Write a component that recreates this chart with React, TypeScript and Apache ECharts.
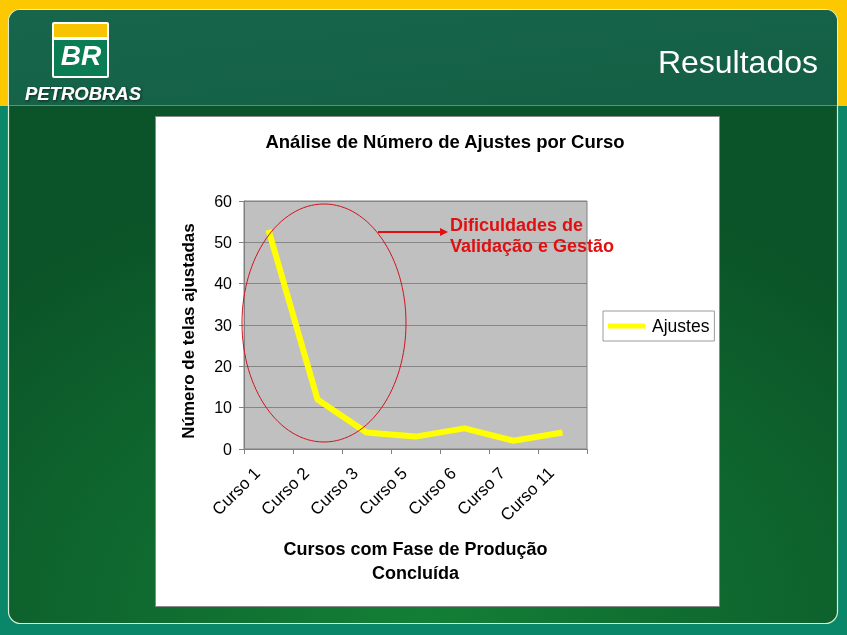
import React, { useEffect, useRef } from 'react';
import * as echarts from 'echarts';

const categories = ['Curso 1', 'Curso 2', 'Curso 3', 'Curso 5', 'Curso 6', 'Curso 7', 'Curso 11'];
const ajustes = [53, 12, 4, 3, 5, 2, 4];
const yMin = 0;
const yMax = 60;
const yStep = 10;
const seriesName = 'Ajustes';
const chartTitle = 'Análise de Número de Ajustes por Curso';
const yAxisTitle = 'Número de telas ajustadas';
const xAxisTitle = 'Cursos com Fase de Produção\nConcluída';
const annotationText = 'Dificuldades de\nValidação e Gestão';
const slideTitle = 'Resultados';
const brandName = 'PETROBRAS';
const logoText = 'BR';

const FONT = '"Liberation Sans", Arial, sans-serif';

export default function App() {
  const ref = useRef<HTMLDivElement>(null);

  useEffect(() => {
    if (!ref.current) return;
    const chart = echarts.init(ref.current, null, { renderer: 'svg' });

    const bgElements: any[] = [
      { type: 'rect', z: -100, silent: true, shape: { x: 0, y: 0, width: 847, height: 635 }, style: { fill: '#0a8769' } },
      { type: 'rect', z: -99, silent: true, shape: { x: 0, y: 0, width: 847, height: 106 }, style: { fill: '#fcc800' } },
      {
        type: 'rect', z: -98, silent: true,
        shape: { x: 8.5, y: 9.5, width: 829, height: 614, r: 12 },
        style: {
          fill: new echarts.graphic.RadialGradient(0.5, 1.0, 0.75, [
            { offset: 0, color: '#137f36' },
            { offset: 1, color: '#0b5328' },
          ]),
          stroke: '#d9efdc', lineWidth: 1.2,
        },
      },
      {
        type: 'rect', z: -97, silent: true,
        shape: { x: 9, y: 10, width: 828, height: 95, r: [11, 11, 0, 0] },
        style: {
          fill: new echarts.graphic.LinearGradient(0, 0, 1, 1, [
            { offset: 0, color: '#17664b' },
            { offset: 1, color: '#135f45' },
          ]),
        },
      },
      { type: 'line', z: -96, silent: true, shape: { x1: 9, y1: 105.5, x2: 837, y2: 105.5 }, style: { stroke: '#4d9a6c', lineWidth: 1 } },
      // logo
      { type: 'rect', z: -95, silent: true, shape: { x: 52, y: 22, width: 57, height: 56, r: 2 }, style: { fill: '#ffffff' } },
      { type: 'rect', z: -94, silent: true, shape: { x: 54, y: 24, width: 53, height: 13 }, style: { fill: '#f6c400' } },
      { type: 'rect', z: -94, silent: true, shape: { x: 54, y: 40, width: 53, height: 36 }, style: { fill: '#0a7d55' } },
      {
        type: 'text', z: -93, silent: true, x: 81, y: 55,
        style: { text: logoText, fill: '#ffffff', font: `italic bold 28px ${FONT}`, align: 'center', verticalAlign: 'middle' },
      },
      {
        type: 'text', z: -93, silent: true, x: 83, y: 93,
        style: {
          text: brandName, fill: '#ffffff', font: `italic bold 18.5px ${FONT}`, align: 'center', verticalAlign: 'middle',
          textShadowColor: '#0a2a18', textShadowBlur: 2, textShadowOffsetX: 1, textShadowOffsetY: 1,
        },
      },
      {
        type: 'text', z: -93, silent: true, x: 818, y: 62,
        style: { text: slideTitle, fill: '#ffffff', font: `32px ${FONT}`, align: 'right', verticalAlign: 'middle' },
      },
      // chart panel
      { type: 'rect', z: -92, silent: true, shape: { x: 155.5, y: 116.5, width: 564, height: 490 }, style: { fill: '#ffffff', stroke: '#8a8a8a', lineWidth: 1 } },
    ];

    const annotationElements: any[] = [
      {
        type: 'ellipse', z: 100, silent: true,
        shape: { cx: 324, cy: 323, rx: 82, ry: 119 },
        style: { fill: 'none', stroke: '#d0141e', lineWidth: 1 },
      },
      { type: 'line', z: 100, silent: true, shape: { x1: 378, y1: 232, x2: 441, y2: 232 }, style: { stroke: '#e01010', lineWidth: 2 } },
      { type: 'polygon', z: 100, silent: true, shape: { points: [[440, 228], [448, 232], [440, 236]] }, style: { fill: '#e01010' } },
      {
        type: 'text', z: 100, silent: true, x: 450, y: 214,
        style: { text: annotationText, fill: '#e01010', font: `bold 18px ${FONT}`, lineHeight: 21 },
      },
    ];

    chart.setOption({
      animation: false,
      title: {
        text: chartTitle,
        left: 440,
        top: 127,
        textAlign: 'center',
        textStyle: { fontFamily: FONT, fontWeight: 'bold', fontSize: 18.5, color: '#000' },
      },
      legend: {
        left: 603,
        top: 311,
        orient: 'vertical',
        padding: [6, 5, 6, 5],
        itemWidth: 37,
        itemHeight: 5,
        itemGap: 4,
        backgroundColor: '#ffffff',
        borderColor: '#9a9a9a',
        borderWidth: 1,
        borderRadius: 0,
        data: [{ name: seriesName, icon: 'rect' }],
        textStyle: { fontFamily: FONT, fontSize: 17.5, color: '#000', padding: [0, 0, 0, 2] },
      },
      grid: {
        left: 244,
        right: 260,
        top: 201,
        bottom: 186,
        show: true,
        backgroundColor: '#c0c0c0',
        borderWidth: 1,
        borderColor: '#808080',
      },
      xAxis: {
        type: 'category',
        data: categories,
        boundaryGap: true,
        axisLine: { show: true, lineStyle: { color: '#808080', width: 1 } },
        axisTick: { show: true, length: 5, alignWithLabel: false, lineStyle: { color: '#808080' } },
        axisLabel: {
          interval: 0,
          rotate: 45,
          margin: 10,
          padding: [0, 16, 0, 0],
          fontFamily: FONT,
          fontSize: 17,
          color: '#000',
        },
        name: xAxisTitle,
        nameLocation: 'middle',
        nameGap: 88,
        nameTextStyle: { fontFamily: FONT, fontWeight: 'bold', fontSize: 18, color: '#000', lineHeight: 24 },
      },
      yAxis: {
        type: 'value',
        min: yMin,
        max: yMax,
        interval: yStep,
        axisLine: { show: true, lineStyle: { color: '#808080', width: 1 } },
        axisTick: { show: true, length: 5, lineStyle: { color: '#808080' } },
        splitLine: { show: true, lineStyle: { color: '#858585', width: 1 } },
        axisLabel: { fontFamily: FONT, fontSize: 16, color: '#000', margin: 12 },
        name: yAxisTitle,
        nameLocation: 'middle',
        nameGap: 47,
        nameTextStyle: { fontFamily: FONT, fontWeight: 'bold', fontSize: 17, color: '#000', padding: [0, 12, 0, 0] },
      },
      series: [
        {
          name: seriesName,
          type: 'line',
          data: ajustes,
          symbol: 'none',
          lineStyle: { color: '#ffff00', width: 6 },
          itemStyle: { color: '#ffff00' },
          z: 5,
        },
      ],
      graphic: { elements: [...bgElements, ...annotationElements] },
    });

    return () => chart.dispose();
  }, []);

  return (
    <div
      ref={ref}
      style={{ position: 'fixed', left: 0, top: 0, width: 847, height: 635 }}
    />
  );
}
